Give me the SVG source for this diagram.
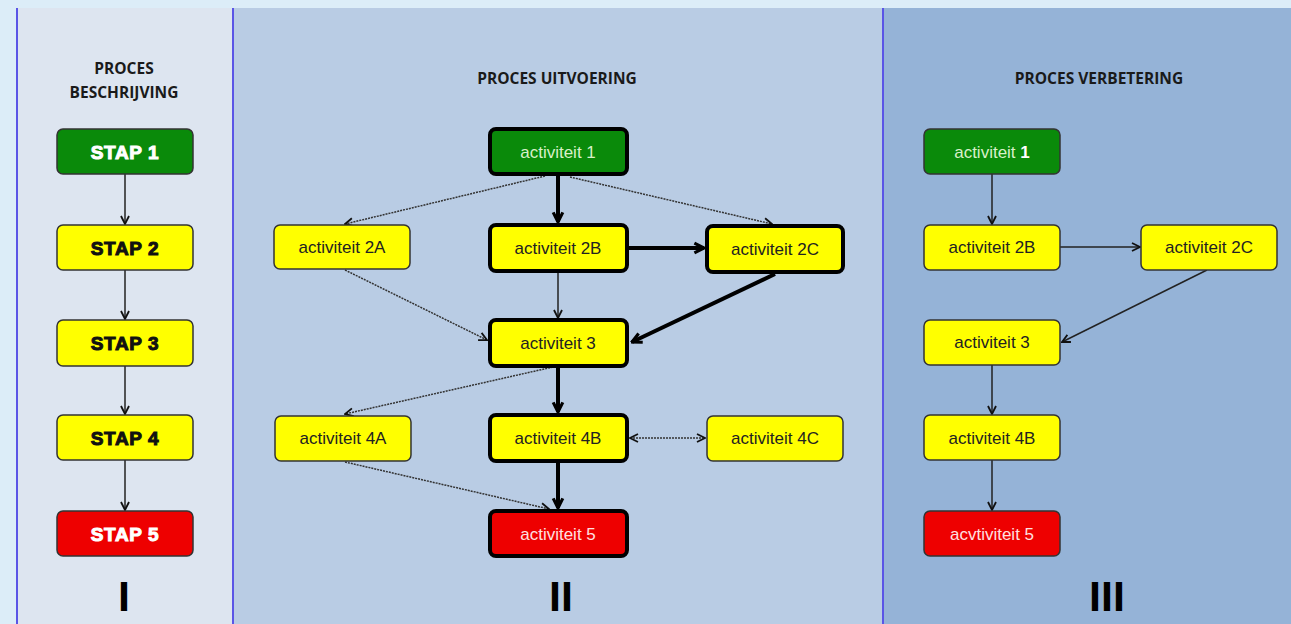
<svg xmlns="http://www.w3.org/2000/svg" width="1291" height="624" viewBox="0 0 1291 624">
<style>
.node rect{rx:6;ry:6}
.thin{stroke:#333;stroke-width:1.5}
.thick{stroke:#000;stroke-width:4}
.g{fill:#0a8a0a}
.y{fill:#ffff00}
.r{fill:#ee0000}
.t{font-family:"Liberation Sans",Arial,sans-serif;font-size:17px;text-anchor:middle}
.stap{font-family:"Liberation Sans",Arial,sans-serif;font-size:19px;font-weight:bold;text-anchor:middle;stroke-width:1;letter-spacing:0.6px}
.hdr{font-family:"Open Sans","Liberation Sans",sans-serif;font-size:15.5px;font-weight:bold;text-anchor:middle;fill:#1a1a1a}
.num{font-family:"Liberation Sans",Arial,sans-serif;font-size:43px;font-weight:bold;text-anchor:middle;fill:#000}
.c1{fill:none;stroke:#222;stroke-width:1.5}
.cd{fill:none;stroke:#333;stroke-width:1.5;stroke-dasharray:2 1}
.ck{fill:none;stroke:#000;stroke-width:4}
</style>
<defs>
<marker id="a" viewBox="0 0 10 10" refX="9" refY="5" markerWidth="10" markerHeight="12" markerUnits="userSpaceOnUse" orient="auto-start-reverse">
<path d="M1,1 L9,5 L1,9" fill="none" stroke="#111" stroke-width="1.8"/>
</marker>
<marker id="ak" viewBox="0 0 10 10" refX="9" refY="5" markerWidth="12" markerHeight="18" markerUnits="userSpaceOnUse" orient="auto">
<path d="M1,1 L9,5 L1,9" fill="none" stroke="#000" stroke-width="2.6"/>
</marker>
</defs>
<rect x="0" y="0" width="1291" height="624" fill="#dcedf8"/>
<rect x="17" y="8" width="216" height="616" fill="#dde5f0"/>
<rect x="233" y="8" width="650" height="616" fill="#b9cce4"/>
<rect x="883" y="8" width="408" height="616" fill="#95b3d7"/>
<line x1="17" y1="8" x2="17" y2="624" stroke="#5a55e6" stroke-width="2"/>
<line x1="233" y1="8" x2="233" y2="624" stroke="#5a55e6" stroke-width="2"/>
<line x1="883" y1="8" x2="883" y2="624" stroke="#5a55e6" stroke-width="2"/>

<text class="hdr" x="124" y="74">PROCES</text>
<text class="hdr" x="124" y="98">BESCHRIJVING</text>
<text class="hdr" x="557" y="84">PROCES UITVOERING</text>
<text class="hdr" x="1099" y="84">PROCES VERBETERING</text>
<text class="num" x="124" y="611">I</text>
<text class="num" x="561" y="611">II</text>
<text class="num" x="1107" y="611">III</text>

<g id="connectors">
<path class="c1" d="M125,174 V224" marker-end="url(#a)"/>
<path class="c1" d="M125,270 V319" marker-end="url(#a)"/>
<path class="c1" d="M125,366 V414" marker-end="url(#a)"/>
<path class="c1" d="M125,460 V510" marker-end="url(#a)"/>

<path class="cd" d="M545,176 L345,224" marker-end="url(#a)"/>
<path class="ck" d="M558,176 V222" marker-end="url(#ak)"/>
<path class="cd" d="M570,177 L772,224" marker-end="url(#a)"/>
<path class="ck" d="M628,248 H704" marker-end="url(#ak)"/>
<path class="c1" d="M558,272 V318" marker-end="url(#a)"/>
<path class="cd" d="M345,270 L487,340" marker-end="url(#a)"/>
<path class="ck" d="M775,274 L632,342" marker-end="url(#ak)"/>
<path class="cd" d="M553,367 L345,414" marker-end="url(#a)"/>
<path class="ck" d="M558,367 V412" marker-end="url(#ak)"/>
<path class="cd" d="M630,438 H705" marker-start="url(#a)" marker-end="url(#a)"/>
<path class="ck" d="M558,462 V508" marker-end="url(#ak)"/>
<path class="cd" d="M345,462 L549,509" marker-end="url(#a)"/>

<path class="c1" d="M992,174 V224" marker-end="url(#a)"/>
<path class="c1" d="M1060,247 H1140" marker-end="url(#a)"/>
<path class="c1" d="M1207,270 L1062,342" marker-end="url(#a)"/>
<path class="c1" d="M992,365 V414" marker-end="url(#a)"/>
<path class="c1" d="M992,460 V510" marker-end="url(#a)"/>
</g>

<g id="stap1" class="node"><rect class="g thin" x="57" y="129" width="136" height="45"/><text class="stap" x="125" y="159" fill="#fff" stroke="#fff">STAP 1</text></g>
<g id="stap2" class="node"><rect class="y thin" x="57" y="225" width="136" height="45"/><text class="stap" x="125" y="255" fill="#111" stroke="#111">STAP 2</text></g>
<g id="stap3" class="node"><rect class="y thin" x="57" y="320" width="136" height="46"/><text class="stap" x="125" y="350" fill="#111" stroke="#111">STAP 3</text></g>
<g id="stap4" class="node"><rect class="y thin" x="57" y="415" width="136" height="45"/><text class="stap" x="125" y="445" fill="#111" stroke="#111">STAP 4</text></g>
<g id="stap5" class="node"><rect class="r thin" x="57" y="511" width="136" height="45"/><text class="stap" x="125" y="541" fill="#fff" stroke="#fff">STAP 5</text></g>

<g id="u1" class="node"><rect class="g thick" x="490" y="129" width="137" height="45"/><text class="t" x="558" y="158" fill="#d8f0c8">activiteit 1</text></g>
<g id="u2a" class="node"><rect class="y thin" x="274" y="225" width="136" height="44"/><text class="t" x="342" y="253" fill="#222">activiteit 2A</text></g>
<g id="u2b" class="node"><rect class="y thick" x="490" y="225" width="137" height="46"/><text class="t" x="558" y="254" fill="#222">activiteit 2B</text></g>
<g id="u2c" class="node"><rect class="y thick" x="707" y="226" width="136" height="46"/><text class="t" x="775" y="255" fill="#222">activiteit 2C</text></g>
<g id="u3" class="node"><rect class="y thick" x="490" y="320" width="137" height="46"/><text class="t" x="558" y="349" fill="#222">activiteit 3</text></g>
<g id="u4a" class="node"><rect class="y thin" x="275" y="416" width="136" height="45"/><text class="t" x="343" y="444" fill="#222">activiteit 4A</text></g>
<g id="u4b" class="node"><rect class="y thick" x="490" y="415" width="137" height="46"/><text class="t" x="558" y="444" fill="#222">activiteit 4B</text></g>
<g id="u4c" class="node"><rect class="y thin" x="707" y="416" width="136" height="45"/><text class="t" x="775" y="444" fill="#222">activiteit 4C</text></g>
<g id="u5" class="node"><rect class="r thick" x="490" y="511" width="137" height="45"/><text class="t" x="558" y="540" fill="#ffe0e0">activiteit 5</text></g>

<g id="v1" class="node"><rect class="g thin" x="924" y="129" width="136" height="45"/><text class="t" x="992" y="158" fill="#d8f0c8">activiteit <tspan font-weight="bold" fill="#fff">1</tspan></text></g>
<g id="v2b" class="node"><rect class="y thin" x="924" y="225" width="136" height="45"/><text class="t" x="992" y="253" fill="#222">activiteit 2B</text></g>
<g id="v2c" class="node"><rect class="y thin" x="1141" y="225" width="136" height="45"/><text class="t" x="1209" y="253" fill="#222">activiteit 2C</text></g>
<g id="v3" class="node"><rect class="y thin" x="924" y="320" width="136" height="45"/><text class="t" x="992" y="348" fill="#222">activiteit 3</text></g>
<g id="v4b" class="node"><rect class="y thin" x="924" y="415" width="136" height="45"/><text class="t" x="992" y="444" fill="#222">activiteit 4B</text></g>
<g id="v5" class="node"><rect class="r thin" x="924" y="511" width="136" height="45"/><text class="t" x="992" y="540" fill="#ffe0e0">acvtiviteit 5</text></g>
</svg>
